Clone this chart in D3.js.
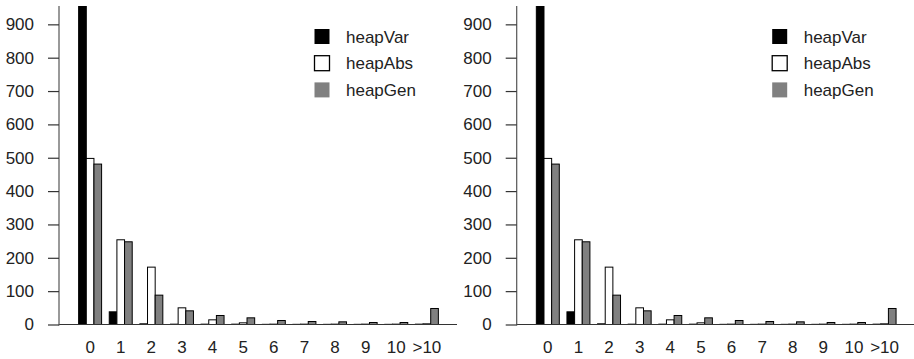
<!DOCTYPE html>
<html>
<head>
<meta charset="utf-8">
<script src="https://cdn.jsdelivr.net/npm/d3@7"></script>
<style>
  html, body { margin: 0; padding: 0; background: #fff; }
  svg { display: block; }
  text { font-family: "Liberation Sans", Arial, Helvetica, sans-serif; fill: #222; }
</style>
</head>
<body>
<script>
// ---- data ----
const categories = ["0", "1", "2", "3", "4", "5", "6", "7", "8", "9", "10", ">10"];
const seriesNames = ["heapVar", "heapAbs", "heapGen"];
const heapVar = [1200, 38, 2, 1, 1, 1, 0.5, 0.5, 0.5, 0.5, 0.5, 1];
const heapAbs = [498, 254, 172, 50, 14, 5, 1, 1, 1, 1, 1, 2];
const heapGen = [481, 248, 88, 41, 27, 20, 12, 9, 8, 6, 6, 48];
const yTicks = [0, 100, 200, 300, 400, 500, 600, 700, 800, 900];
const panels = ["left", "right"];

const seriesValues = [heapVar, heapAbs, heapGen];
const fills = ["#000000", "#ffffff", "#808080"];

const W = 914, H = 359;
const svg = d3.select("body").append("svg").attr("width", W).attr("height", H);

const yMax = 955;
const y = d3.scaleLinear().domain([0, yMax]).range([324.5, 6]);
// unit-based x scale: group i occupies units 4i+1 .. 4i+4
const x = d3.scaleLinear().domain([-1.5, 50.5]).range([59, 457]);

panels.forEach((p, pi) => {
  const g = svg.append("g").attr("transform", `translate(${pi * 457.7},0)`);

  const clipId = "clip" + pi;
  g.append("clipPath").attr("id", clipId)
    .append("rect").attr("x", x(-1.5)).attr("y", y(yMax)).attr("width", x(50.5) - x(-1.5)).attr("height", y(0) - y(yMax) + 1);

  const bars = g.append("g").attr("clip-path", `url(#${clipId})`);
  seriesValues.forEach((vals, si) => {
    bars.selectAll(null).data(vals).enter().append("rect")
      .attr("x", (d, i) => x(4 * i + 1 + si) + 0.5)
      .attr("y", d => y(d))
      .attr("width", x(1) - x(0))
      .attr("height", d => y(0) - y(d))
      .attr("fill", fills[si])
      .attr("stroke", "#000")
      .attr("stroke-width", 1);
  });

  // baseline
  g.append("line")
    .attr("x1", x(-1.5)).attr("x2", x(50.5))
    .attr("y1", y(0)).attr("y2", y(0))
    .attr("stroke", "#333").attr("stroke-width", 1.2);

  // y axis
  const yAxis = d3.axisLeft(y).tickValues(yTicks).tickSize(11).tickPadding(14).tickSizeOuter(0);
  const ya = g.append("g").attr("transform", `translate(${x(-1.5)},0)`).call(yAxis);
  ya.select(".domain").attr("stroke", "#555").attr("stroke-width", 1.2)
    .attr("d", `M0,${y(yMax)}V${y(0) + 1}`);
  ya.selectAll(".tick line").attr("stroke", "#333").attr("stroke-width", 1.2);
  ya.selectAll(".tick text")
    .style("font-family", '"Liberation Sans", Arial, sans-serif')
    .style("font-size", "17px").attr("fill", "#222");

  // x labels
  g.selectAll(null).data(categories).enter().append("text")
    .attr("x", (d, i) => x(4 * i + 2.5) + 0.5)
    .attr("y", 347)
    .attr("text-anchor", "middle")
    .attr("dominant-baseline", "central")
    .style("font-size", "17px")
    .text(d => d);

  // legend
  const lg = g.append("g");
  seriesNames.forEach((name, si) => {
    const cy = 36.5 + si * 26.7;
    lg.append("rect")
      .attr("x", 314.5).attr("y", cy - 7.5)
      .attr("width", 15).attr("height", 15)
      .attr("fill", fills[si])
      .attr("stroke", si === 1 ? "#000" : "none")
      .attr("stroke-width", 1.3);
    lg.append("text")
      .attr("x", 346).attr("y", cy + 0.5)
      .attr("dominant-baseline", "central")
      .style("font-size", "17px")
      .text(name);
  });
});
</script>
</body>
</html>
